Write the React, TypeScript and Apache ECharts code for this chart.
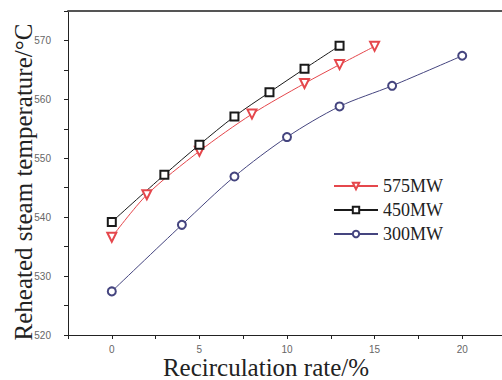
import React, { useEffect, useRef } from "react";
import * as echarts from "echarts";

const xTicks = [0, 5, 10, 15, 20];
const yTicks = [520, 530, 540, 550, 560, 570];

const x575 = [0, 2, 5, 8, 11, 13, 15];
const y575 = [536.6, 543.8, 551.2, 557.5, 562.7, 565.9, 569.0];

const x450 = [0, 3, 5, 7, 9, 11, 13];
const y450 = [539.2, 547.2, 552.3, 557.1, 561.2, 565.2, 569.1];

const x300 = [0, 4, 7, 10, 13, 16, 20];
const y300 = [527.4, 538.7, 546.9, 553.6, 558.8, 562.3, 567.4];

const names = ["575MW", "450MW", "300MW"];
const colors = ["#e5474c", "#1a1a1a", "#45457f"];
const symbols = ["emptyTriangle", "emptyRect", "emptyCircle"];

const SERIF = "'Liberation Serif', 'DejaVu Serif', serif";

const zip = (xs: number[], ys: number[]) => xs.map((x, i) => [x, ys[i]]);

export default function App() {
  const ref = useRef<HTMLDivElement>(null);
  useEffect(() => {
    if (!ref.current) return;
    const chart = echarts.init(ref.current, null, { renderer: "svg" });
    const data = [zip(x575, y575), zip(x450, y450), zip(x300, y300)];
    chart.setOption({
      animation: false,
      backgroundColor: "#ffffff",
      grid: {
        left: 68,
        right: -4,
        top: 11,
        bottom: 45,
        outerBoundsMode: "none",
        containLabel: false,
      },
      legend: {
        orient: "vertical",
        left: 328,
        top: 172,
        itemWidth: 44,
        itemHeight: 8,
        itemGap: 6,
        data: names,
        textStyle: { fontFamily: SERIF, fontSize: 18, color: "#222" },
      },
      xAxis: [
        {
          type: "value",
          position: "bottom",
          min: -2.5,
          max: 22.5,
          interval: 2.5,
          axisLine: { show: true, onZero: false, lineStyle: { color: "#222", width: 1 } },
          axisTick: { show: true, length: 4, lineStyle: { color: "#222" } },
          splitLine: { show: false },
          axisLabel: {
            margin: 9,
            fontFamily: "Liberation Sans",
            fontSize: 10,
            color: "#666",
            formatter: (v: number) => (xTicks.includes(v) ? String(v) : ""),
          },
        },
        {
          type: "value",
          position: "top",
          min: -2.5,
          max: 22.5,
          axisLine: { show: true, onZero: false, lineStyle: { color: "#555", width: 2 } },
          axisTick: { show: false },
          axisLabel: { show: false },
          splitLine: { show: false },
        },
      ],
      yAxis: [
        {
          type: "value",
          position: "left",
          min: 520,
          max: 575,
          interval: 5,
          axisLine: { show: true, onZero: false, lineStyle: { color: "#222", width: 1 } },
          axisTick: { show: true, length: 4, lineStyle: { color: "#222", width: 1 } },
          splitLine: { show: false },
          axisLabel: {
            margin: 17,
            fontFamily: "Liberation Sans",
            fontSize: 10,
            color: "#666",
            formatter: (v: number) => (yTicks.includes(v) ? String(v) : ""),
          },
        },
      ],
      graphic: [
        {
          type: "text",
          x: 266,
          y: 367,
          style: {
            text: "Recirculation rate/%",
            fontFamily: SERIF,
            fontSize: 25,
            fill: "#222",
            align: "center",
            verticalAlign: "middle",
          },
        },
        {
          type: "text",
          x: 23,
          y: 182,
          rotation: Math.PI / 2,
          style: {
            text: "Reheated steam temperature/\u00B0C",
            fontFamily: SERIF,
            fontSize: 25,
            fill: "#222",
            align: "center",
            verticalAlign: "middle",
          },
        },
      ],
      series: names.map((n, i) => ({
        name: n,
        type: "line",
        xAxisIndex: 0,
        yAxisIndex: 0,
        smooth: 0.3,
        data: data[i],
        symbol: symbols[i],
        symbolSize: i === 0 ? 9 : 8,
        symbolRotate: i === 0 ? 180 : 0,
        color: colors[i],
        lineStyle: { color: colors[i], width: 1 },
        itemStyle: { color: colors[i], borderWidth: 1 },
      })),
    });
    return () => chart.dispose();
  }, []);
  return (
    <div
      ref={ref}
      style={{ position: "fixed", left: 0, top: 0, width: 502, height: 380 }}
    />
  );
}
